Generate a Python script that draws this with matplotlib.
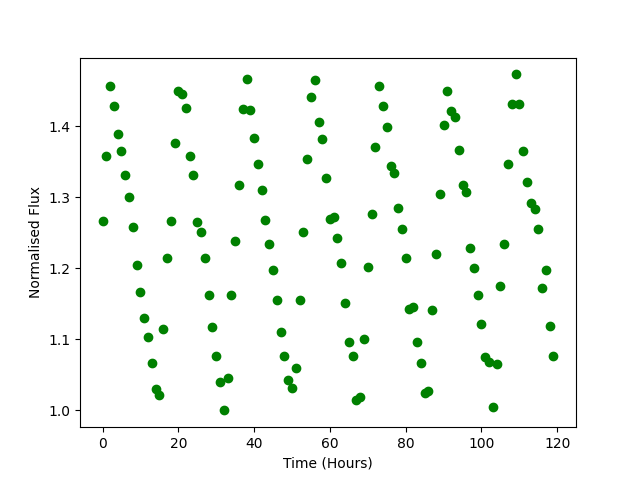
import numpy as np
from matplotlib import pyplot as plt

# time in hours, one sample per hour
time_hours = np.arange(120)

# normalised flux
flux = [
    1.266, 1.358, 1.457, 1.429, 1.389, 1.365, 1.332, 1.300, 1.258, 1.204,
    1.167, 1.130, 1.104, 1.067, 1.030, 1.022, 1.115, 1.214, 1.266, 1.377,
    1.450, 1.445, 1.425, 1.358, 1.331, 1.265, 1.251, 1.214, 1.162, 1.118,
    1.077, 1.040, 1.000, 1.046, 1.162, 1.238, 1.317, 1.424, 1.466, 1.423,
    1.383, 1.347, 1.310, 1.268, 1.234, 1.198, 1.155, 1.111, 1.077, 1.043,
    1.032, 1.060, 1.155, 1.251, 1.354, 1.441, 1.465, 1.406, 1.382, 1.327,
    1.269, 1.272, 1.242, 1.207, 1.151, 1.096, 1.076, 1.015, 1.019, 1.101,
    1.202, 1.277, 1.371, 1.457, 1.429, 1.399, 1.344, 1.334, 1.285, 1.255,
    1.215, 1.143, 1.145, 1.096, 1.067, 1.024, 1.028, 1.141, 1.220, 1.305,
    1.402, 1.450, 1.421, 1.413, 1.366, 1.317, 1.308, 1.229, 1.201, 1.163,
    1.121, 1.075, 1.068, 1.005, 1.065, 1.175, 1.234, 1.347, 1.432, 1.473,
    1.432, 1.365, 1.322, 1.292, 1.283, 1.255, 1.172, 1.198, 1.119, 1.076,
]

plt.figure(figsize=(6.4, 4.8), dpi=100)
plt.plot(time_hours, flux, 'o', color='green')
plt.xlabel('Time (Hours)')
plt.ylabel('Normalised Flux')
plt.savefig('out.png', dpi=100)
plt.close()
